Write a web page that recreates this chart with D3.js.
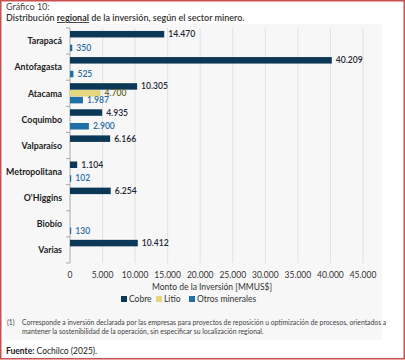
<!DOCTYPE html>
<html><head><meta charset="utf-8">
<script src="https://cdn.jsdelivr.net/npm/d3@7"></script>
<style>
html,body{margin:0;padding:0;background:#fff;}
svg{display:block;font-family:Lato,"Open Sans",sans-serif;}
</style></head>
<body>
<svg id="c" width="405" height="360"></svg>
<script>
const categories = ["Tarapacá","Antofagasta","Atacama","Coquimbo","Valparaíso","Metropolitana","O'Higgins","Biobío","Varias"];
const seriesNames = ["Cobre","Litio","Otros minerales"];
const cobre = [14470, 40209, 10305, 4935, 6166, 1104, 6254, null, 10412];
const litio = [null, null, 4700, null, null, null, null, null, null];
const otros = [350, 525, 1987, 2900, null, 102, null, 130, null];
const xTicks = [0,5000,10000,15000,20000,25000,30000,35000,40000,45000];
const colors = ["#0c3857","#e3d67c","#2070a8"];
const labelColors = ["#1d2833","#6b5f1e","#2a6da3"];

const svg = d3.select("#c");
svg.append("rect").attr("x",0.75).attr("y",0.75).attr("width",403.5).attr("height",358).attr("fill","#fff").attr("stroke","#c9504f").attr("stroke-width",1.5);
svg.append("rect").attr("x",5).attr("y",24).attr("width",377).attr("height",316).attr("fill","#f7f7f7");

svg.append("text").attr("x",6).attr("y",10).attr("font-size",9).attr("fill","#444").text("Gráfico 10:");
const t2 = svg.append("text").attr("x",6).attr("y",21).attr("font-size",9).attr("fill","#333").attr("font-weight",600);
t2.append("tspan").text("Distribución ");
t2.append("tspan").attr("font-weight",700).attr("text-decoration","underline").text("regional");
t2.append("tspan").text(" de la inversión, según el sector minero.");

const x = d3.scaleLinear().domain([0,45000]).range([70,363]);
const y = d3.scaleBand().domain(categories).range([28,263]).paddingInner(0.2).paddingOuter(0.1);
const ySub = d3.scaleBand().domain([0,1,2]).range([0,y.bandwidth()]).padding(0.05);

svg.append("g").selectAll("line").data(xTicks.slice(1)).join("line")
  .attr("x1",d=>x(d)).attr("x2",d=>x(d)).attr("y1",28).attr("y2",263)
  .attr("stroke","#dcdcdc").attr("stroke-width",0.8);

const bounds = d3.range(categories.length+1).map(i=>28 + i*(235/categories.length));
svg.append("line").attr("x1",70).attr("x2",70).attr("y1",28).attr("y2",263).attr("stroke","#aaa");
svg.append("g").selectAll("line").data(bounds).join("line")
  .attr("x1",66).attr("x2",70).attr("y1",d=>d).attr("y2",d=>d).attr("stroke","#aaa");

svg.append("g").selectAll("text").data(categories).join("text")
  .attr("x",62).attr("y",d=>y(d)+y.bandwidth()/2+3.3).attr("text-anchor","end")
  .attr("font-size",8.8).attr("font-weight",700).attr("fill","#222").text(d=>d);

const all = [cobre, litio, otros];
const fmt = v => d3.format(",")(v).replace(/,/g,".");
all.forEach((arr, s) => {
  const data = categories.map((c,i)=>({c, v:arr[i]})).filter(d=>d.v!=null);
  const g = svg.append("g");
  g.selectAll("rect").data(data).join("rect")
    .attr("x",x(0)).attr("y",d=>y(d.c)+ySub(s)).attr("height",ySub.bandwidth())
    .attr("width",d=>Math.max(1.2, x(d.v)-x(0))).attr("fill",colors[s]);
  g.selectAll("text").data(data).join("text")
    .attr("x",d=>Math.max(x(0)+1.2, x(d.v))+4).attr("y",d=>y(d.c)+ySub(s)+ySub.bandwidth()/2+3)
    .attr("font-size",8.6).attr("font-weight",600).attr("fill",labelColors[s]).text(d=>fmt(d.v));
});

svg.append("g").selectAll("text").data(xTicks).join("text")
  .attr("x",d=>x(d)).attr("y",278).attr("text-anchor","middle").attr("font-size",8.5).attr("fill","#333")
  .text(d=>fmt(d));
svg.append("text").attr("x",212).attr("y",290).attr("text-anchor","middle").attr("font-size",8.5).attr("fill","#333")
  .text("Monto de la Inversión [MMUS$]");

const legX = [121,156,189];
seriesNames.forEach((n,i)=>{
  svg.append("rect").attr("x",legX[i]).attr("y",296).attr("width",6).attr("height",6).attr("fill",colors[i]);
  svg.append("text").attr("x",legX[i]+8).attr("y",302).attr("font-size",8.5).attr("fill","#333").text(n);
});

svg.append("text").attr("x",7).attr("y",325).attr("font-size",6.8).attr("fill","#444").text("(1)");
svg.append("text").attr("x",22).attr("y",325).attr("font-size",6.8).attr("fill","#444")
  .text("Corresponde a inversión declarada por las empresas para proyectos de reposición u optimización de procesos, orientados a");
svg.append("text").attr("x",22).attr("y",334).attr("font-size",6.8).attr("fill","#444")
  .text("mantener la sostenibilidad de la operación, sin especificar su localización regional.");
const f = svg.append("text").attr("x",6).attr("y",354).attr("font-size",8.5).attr("fill","#222");
f.append("tspan").attr("font-weight",700).text("Fuente:");
f.append("tspan").text(" Cochilco (2025).");
</script>
</body></html>
